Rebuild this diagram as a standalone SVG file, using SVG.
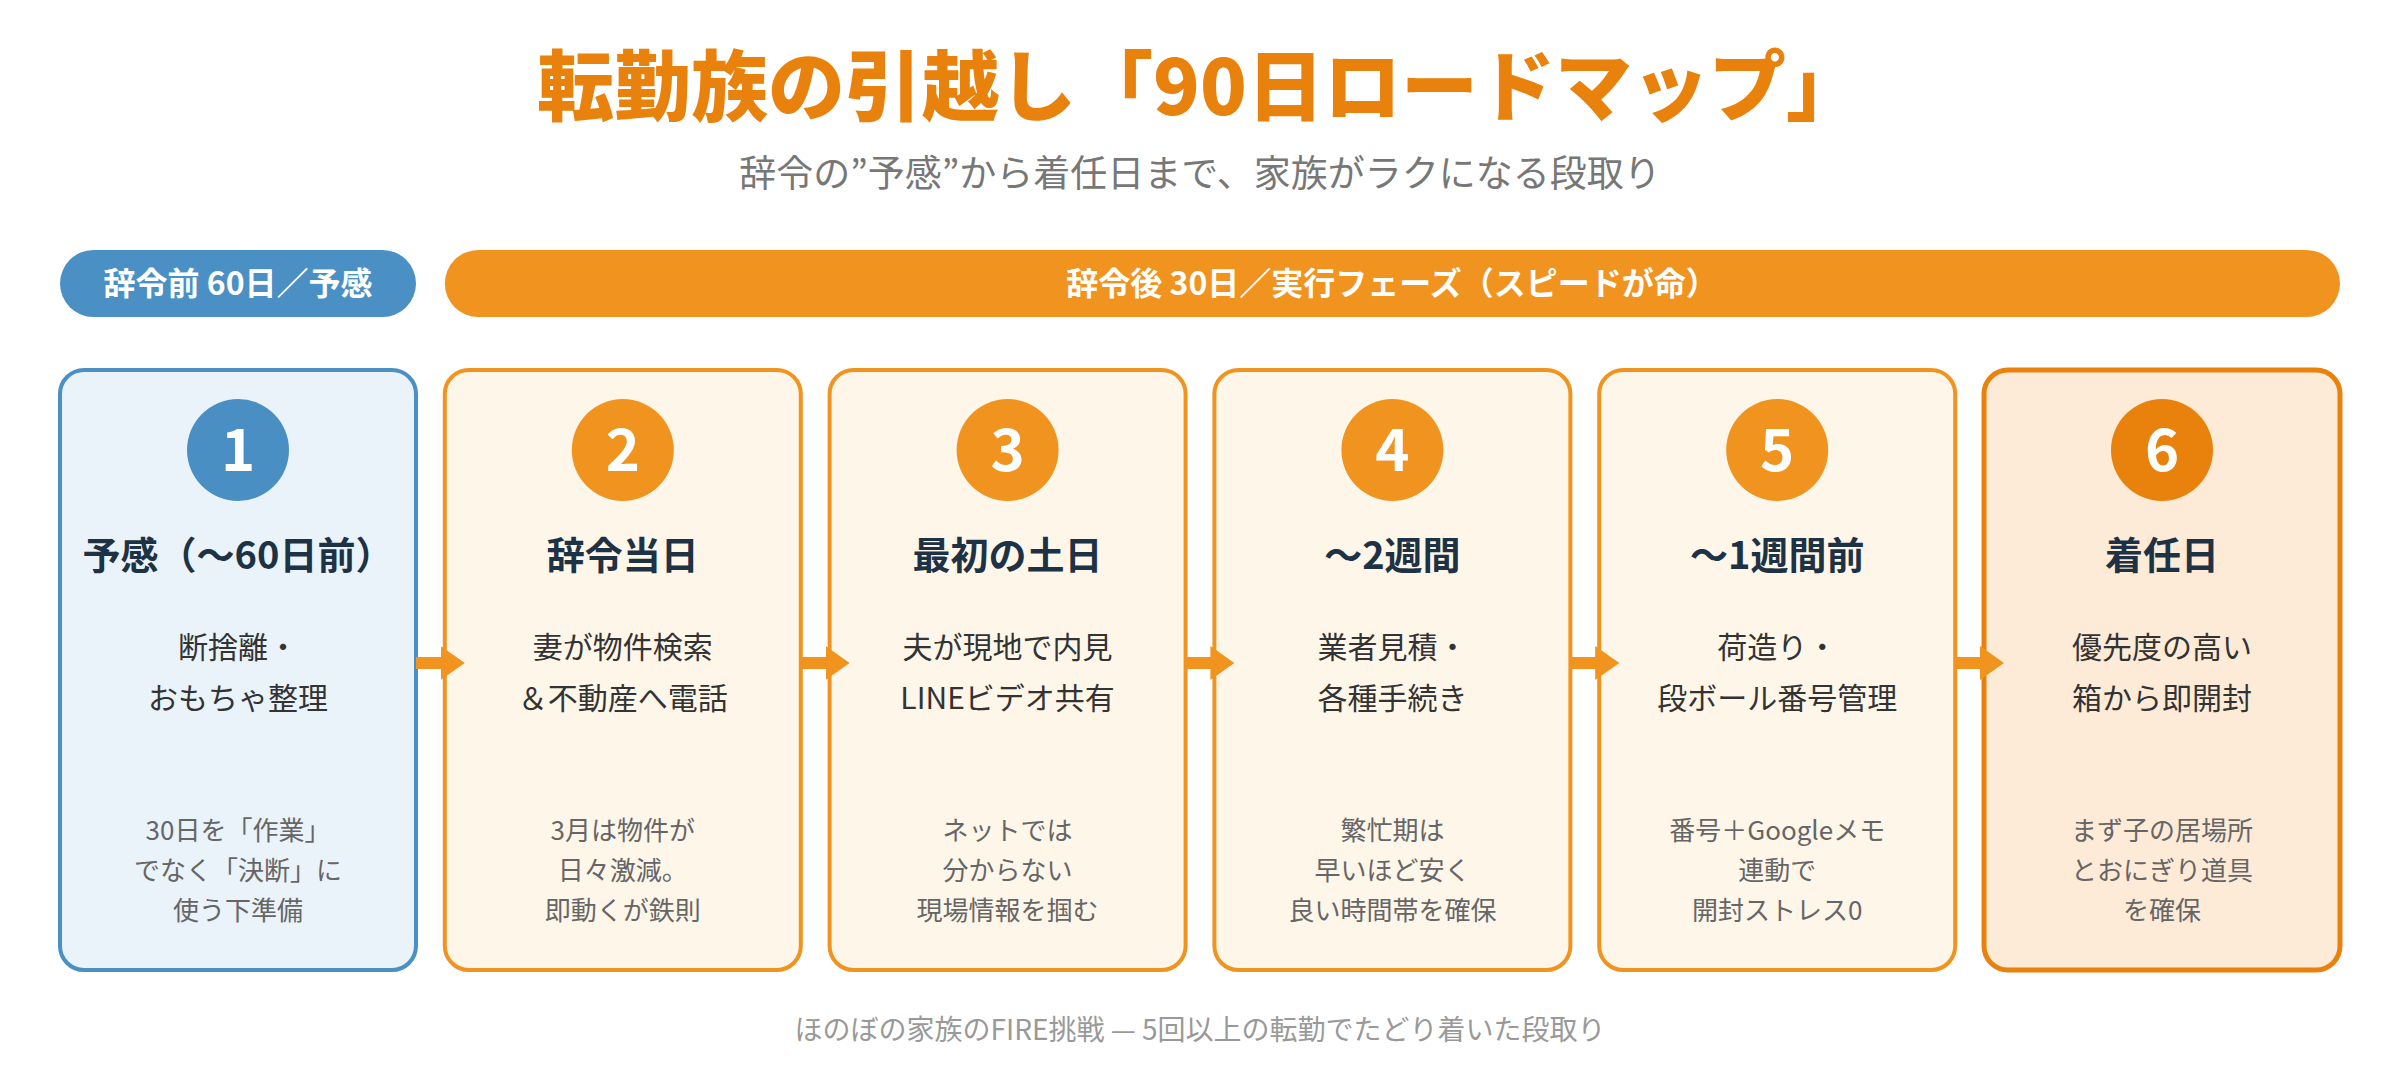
<svg xmlns="http://www.w3.org/2000/svg" width="2400" height="1080" viewBox="0 0 2400 1080">
<defs>
<style>
text{font-family:"Noto Sans CJK JP","Noto Sans",sans-serif;text-anchor:middle}
.title{font-size:77px;font-weight:900;fill:#E8820C}
.sub{font-size:37px;fill:#777}
.pill{font-size:32px;font-weight:700;fill:#fff}
.card{fill:#FFF6EA;stroke:#F0941F;stroke-width:4}
.card1{fill:#EAF2FA;stroke:#4A90C4;stroke-width:4}
.card6{fill:#FDEBD8;stroke:#E8820C;stroke-width:5}
.num{font-size:58px;font-weight:700;fill:#fff}
.h{font-size:38px;font-weight:700;fill:#1E3246}
.d{font-size:30px;fill:#333}
.n{font-size:26px;fill:#666}
.foot{font-size:28px;fill:#999}
.conn{stroke:#F0941F;stroke-width:12;fill:none}
</style>
<marker id="ah" markerUnits="userSpaceOnUse" markerWidth="24" markerHeight="34" refX="2" refY="17" orient="auto" viewBox="0 0 24 34">
<path d="M0,0 L24,17 L0,34 Z" fill="#F0941F"/>
</marker>
</defs>
<rect width="2400" height="1080" fill="#fff"/>
<text class="title" x="1200" y="115">転勤族の引越し「90日ロードマップ」</text>
<text class="sub" x="1200" y="187">辞令の”予感”から着任日まで、家族がラクになる段取り</text>
<g id="phase-before">
<rect x="60" y="250" width="356" height="67" rx="33.5" fill="#4A90C4"/>
<text class="pill" x="238" y="295">辞令前 60日／予感</text>
</g>
<g id="phase-after">
<rect x="444.8" y="250" width="1895.2" height="67" rx="33.5" fill="#F0941F"/>
<text class="pill" x="1392" y="295">辞令後 30日／実行フェーズ（スピードが命）</text>
</g>
<g id="step1">
<rect class="card1" x="60" y="370" width="356" height="600" rx="24"/>
<circle cx="238" cy="450" r="51" fill="#4A8FC3"/>
<text class="num" x="238" y="471">1</text>
<text class="h" x="238" y="569">予感（〜60日前）</text>
<text class="d" x="238" y="658">断捨離・</text>
<text class="d" x="238" y="709">おもちゃ整理</text>
<text class="n" x="238" y="840">30日を「作業」</text>
<text class="n" x="238" y="880">でなく「決断」に</text>
<text class="n" x="238" y="920">使う下準備</text>
</g>
<g id="step2">
<rect class="card" x="444.8" y="370" width="356" height="600" rx="24"/>
<circle cx="622.8" cy="450" r="51" fill="#F0941F"/>
<text class="num" x="622.8" y="471">2</text>
<text class="h" x="622.8" y="569">辞令当日</text>
<text class="d" x="622.8" y="658">妻が物件検索</text>
<text class="d" x="622.8" y="709">＆不動産へ電話</text>
<text class="n" x="622.8" y="840">3月は物件が</text>
<text class="n" x="622.8" y="880">日々激減。</text>
<text class="n" x="622.8" y="920">即動くが鉄則</text>
</g>
<g id="step3">
<rect class="card" x="829.6" y="370" width="356" height="600" rx="24"/>
<circle cx="1007.6" cy="450" r="51" fill="#F0941F"/>
<text class="num" x="1007.6" y="471">3</text>
<text class="h" x="1007.6" y="569">最初の土日</text>
<text class="d" x="1007.6" y="658">夫が現地で内見</text>
<text class="d" x="1007.6" y="709">LINEビデオ共有</text>
<text class="n" x="1007.6" y="840">ネットでは</text>
<text class="n" x="1007.6" y="880">分からない</text>
<text class="n" x="1007.6" y="920">現場情報を掴む</text>
</g>
<g id="step4">
<rect class="card" x="1214.4" y="370" width="356" height="600" rx="24"/>
<circle cx="1392.4" cy="450" r="51" fill="#F0941F"/>
<text class="num" x="1392.4" y="471">4</text>
<text class="h" x="1392.4" y="569">〜2週間</text>
<text class="d" x="1392.4" y="658">業者見積・</text>
<text class="d" x="1392.4" y="709">各種手続き</text>
<text class="n" x="1392.4" y="840">繁忙期は</text>
<text class="n" x="1392.4" y="880">早いほど安く</text>
<text class="n" x="1392.4" y="920">良い時間帯を確保</text>
</g>
<g id="step5">
<rect class="card" x="1599.2" y="370" width="356" height="600" rx="24"/>
<circle cx="1777.2" cy="450" r="51" fill="#F0941F"/>
<text class="num" x="1777.2" y="471">5</text>
<text class="h" x="1777.2" y="569">〜1週間前</text>
<text class="d" x="1777.2" y="658">荷造り・</text>
<text class="d" x="1777.2" y="709">段ボール番号管理</text>
<text class="n" x="1777.2" y="840">番号＋Googleメモ</text>
<text class="n" x="1777.2" y="880">連動で</text>
<text class="n" x="1777.2" y="920">開封ストレス0</text>
</g>
<g id="step6">
<rect class="card6" x="1984" y="370" width="356" height="600" rx="24"/>
<circle cx="2162" cy="450" r="51" fill="#E8820C"/>
<text class="num" x="2162" y="471">6</text>
<text class="h" x="2162" y="569">着任日</text>
<text class="d" x="2162" y="658">優先度の高い</text>
<text class="d" x="2162" y="709">箱から即開封</text>
<text class="n" x="2162" y="840">まず子の居場所</text>
<text class="n" x="2162" y="880">とおにぎり道具</text>
<text class="n" x="2162" y="920">を確保</text>
</g>
<g id="connectors">
<line class="conn" x1="416" y1="663" x2="442.8" y2="663" marker-end="url(#ah)"/>
<line class="conn" x1="800.8" y1="663" x2="827.6" y2="663" marker-end="url(#ah)"/>
<line class="conn" x1="1185.6" y1="663" x2="1212.4" y2="663" marker-end="url(#ah)"/>
<line class="conn" x1="1570.4" y1="663" x2="1597.2" y2="663" marker-end="url(#ah)"/>
<line class="conn" x1="1955.2" y1="663" x2="1982" y2="663" marker-end="url(#ah)"/>
</g>
<text class="foot" x="1200" y="1040">ほのぼの家族のFIRE挑戦 — 5回以上の転勤でたどり着いた段取り</text>
</svg>
